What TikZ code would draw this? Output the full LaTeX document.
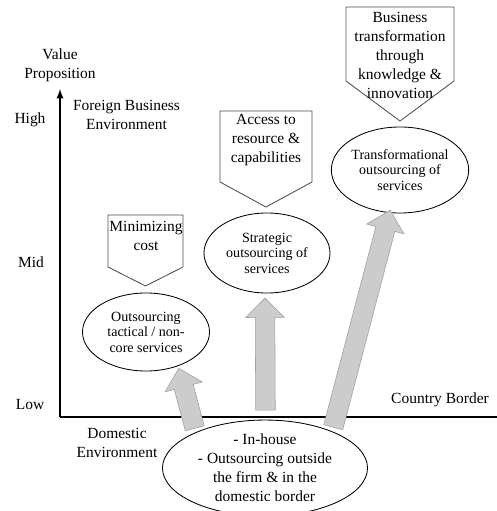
\documentclass[tikz,border=0pt]{standalone}
\usepackage{fontspec}
\setmainfont{Liberation Serif}
\usetikzlibrary{shapes.geometric}
\usetikzlibrary{shapes.arrows}
\usetikzlibrary{calc}
\usetikzlibrary{arrows}
\tikzset{x=0.025cm, y=-0.025cm, % One unit is one pixel of the sketch, y runs downwards
    axis/.style={line width=1.3pt},
    tag/.style={ % Free labels round the axes
        font=\fontsize{11}{13.5}\selectfont,
        align=center,
        inner sep=0pt
    },
    stage/.style={ % Sets the properties for each outsourcing stage
        draw,
        ellipse,
        semithick,
        inner sep=0pt,
        align=center,
        font=\fontsize{10}{11}\selectfont
    },
    goal/.style={draw=black!70, semithick}, % Pointed boxes above the stages
    push/.style={ % Broad grey arrows between stages
        single arrow,
        draw=gray!75,
        fill=gray!40,
        inner xsep=0pt,
        inner ysep=0.2375cm, % Half the shaft width
        single arrow head extend=0.2375cm,
        single arrow head indent=0pt
    }
}
\newcommand{\pusharrow}[2]{%
    \path let \p1=($(#2)-(#1)$), \n1={veclen(\x1,\y1)}, \n2={atan2(\y1,\x1)} in
        node[push, minimum height=\n1, rotate=\n2] at ($(#1)!0.5!(#2)$) {};}

\begin{document}
\begin{tikzpicture}
\useasboundingbox (0,0) rectangle (497,511);

% axes
\coordinate (o)   at (60,417);
\coordinate (top) at (60,89);
\coordinate (end) at (497,417);
\draw[axis,->,>=latex] (o) -- (top);
\draw[axis] (o) -- (end);

\node[tag] (vp)   at (60,65)    {Value\\Proposition};
\node[tag] (high) at (30,120)   {High};
\node[tag] (mid)  at (31,262)   {Mid};
\node[tag] (low)  at (30,405)   {Low};
\node[tag] (fbe)  at (126.5,115) {Foreign Business\\Environment};
\node[tag] (dom)  at (117,442.5) {Domestic\\Environment};
\node[tag] (cb)   at (440,400)  {Country Border};

% stages
\node[stage,minimum width=3.175cm,minimum height=1.95cm] (tact)  at (146,332) {Outsourcing\\tactical / non-\\core services};
\node[stage,minimum width=3.15cm,minimum height=2cm]    (strat) at (267,253) {Strategic\\outsourcing of\\services};
\node[stage,minimum width=3.35cm,minimum height=2.15cm] (trans) at (400,170) {Transformational\\outsourcing of\\services};
\node[stage,minimum width=5.125cm,minimum height=2.2cm,
      font=\fontsize{11}{13.5}\selectfont]              (home)  at (265,468) {- In-house\\- Outsourcing outside\\the firm \& in the\\domestic border};

% pointed boxes
\draw[goal] (108,215) -- (183,215) -- (183,267) -- (145.5,286) -- (108,267) -- cycle;
\draw[goal] (220,111) -- (312,111) -- (312,182) -- (266,207) -- (220,182) -- cycle;
\draw[goal] (346,7) -- (454,7) -- (454,81) -- (400,121) -- (346,81) -- cycle;
\node[tag] (cost)   at (146,236) {Minimizing\\cost};
\node[tag] (access) at (266,140) {Access to\\resource \&\\capabilities};
\node[tag] (know)   at (400,55)  {Business\\transformation\\through\\knowledge \&\\innovation};

% arrows
\coordinate (a1s) at (196,433);
\coordinate (a1e) at (180,373);
\coordinate (a2s) at (265.5,415);
\coordinate (a2e) at (265,303);
\coordinate (a3s) at (332,432);
\coordinate (a3e) at (389,215);
\pusharrow{a1s}{a1e}
\pusharrow{a2s}{a2e}
\pusharrow{a3s}{a3e}
\end{tikzpicture}
\end{document}
